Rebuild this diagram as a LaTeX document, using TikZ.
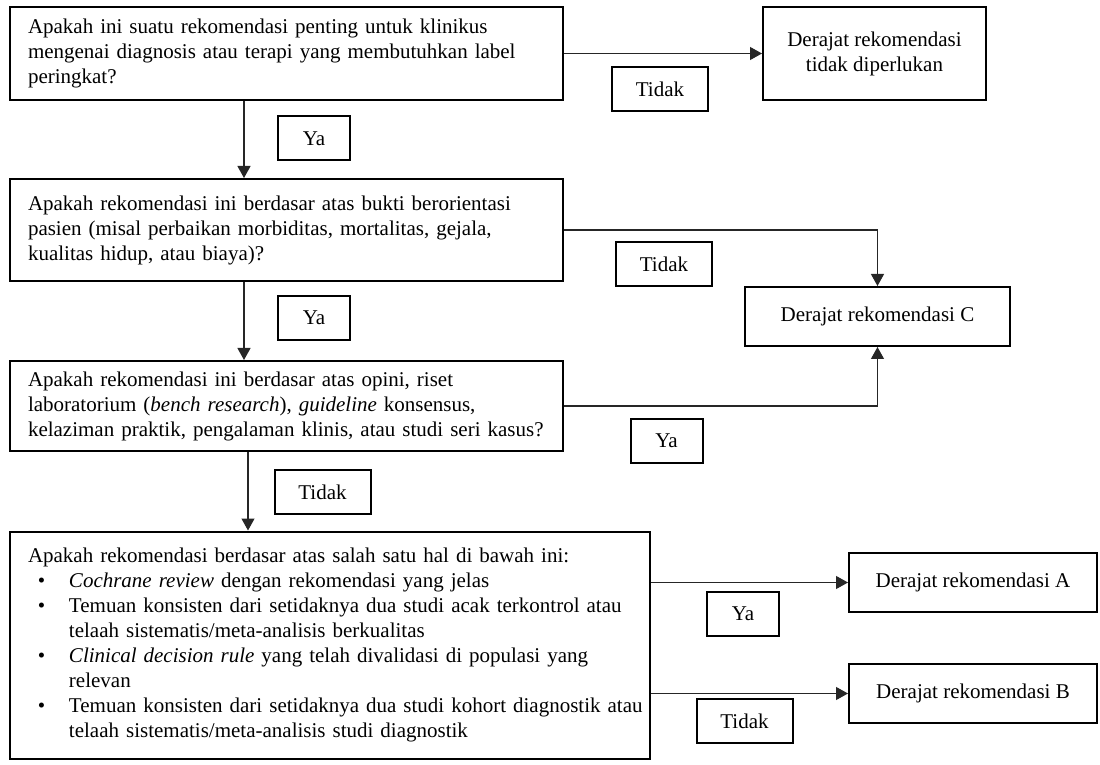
\documentclass[tikz,border=0pt]{standalone}
\usepackage{fontspec}
\setmainfont{Liberation Serif}
\usetikzlibrary{arrows.meta}

\newcommand{\itembul}{\makebox[20.5pt][l]{\hspace{5pt}\textbullet}}
\newcommand{\itemind}{\hspace*{20.5pt}}

\begin{document}
\begin{tikzpicture}[x=0.5pt, y=-0.5pt,
	every node/.style={font=\fontsize{10.5}{12.5}\selectfont},
	question/.style={draw, rectangle, line width=1pt, inner xsep=9pt, inner ysep=0pt, align=left},
	grade/.style={draw, rectangle, line width=1pt, inner sep=0pt, align=center},
	answer/.style={draw, rectangle, line width=1pt, inner sep=0pt, minimum width=#1, minimum height=22pt},
	link/.style={-{Triangle[length=6pt,width=6.5pt]}, line width=0.6pt, black!85}]
			
			\useasboundingbox (0,0) rectangle (1100,765);
			
			%Questions
			\node (firstQuestion) at (286.5,53.5) [question, text width=258.5pt, minimum width=276.5pt, minimum height=46.5pt]{Apakah ini suatu rekomendasi penting untuk klinikus\\mengenai diagnosis atau terapi yang membutuhkan label\\peringkat?};
			\node (patientQuestion) at (286.5,230) [question, text width=258.5pt, minimum width=276.5pt, minimum height=51pt]{Apakah rekomendasi ini berdasar atas bukti berorientasi\\pasien (misal perbaikan morbiditas, mortalitas, gejala,\\kualitas hidup, atau biaya)?};
			\node (opinionQuestion) at (286.5,406) [question, text width=258.5pt, minimum width=276.5pt, minimum height=45pt]{Apakah rekomendasi ini berdasar atas opini, riset\\laboratorium (\textit{bench research}), \textit{guideline} konsensus,\\kelaziman praktik, pengalaman klinis, atau studi seri kasus?};
			\node (evidenceQuestion) at (330,645) [question, text width=302pt, minimum width=320pt, minimum height=113.5pt]{Apakah rekomendasi berdasar atas salah satu hal di bawah ini:\\
				\itembul\textit{Cochrane review} dengan rekomendasi yang jelas\\
				\itembul Temuan konsisten dari setidaknya dua studi acak terkontrol atau\\
				\itemind telaah sistematis/meta-analisis berkualitas\\
				\itembul\textit{Clinical decision rule} yang telah divalidasi di populasi yang\\
				\itemind relevan\\
				\makebox[302pt][l]{\itembul Temuan konsisten dari setidaknya dua studi kohort diagnostik atau}\\
				\itemind telaah sistematis/meta-analisis studi diagnostik};
			
			%Grades
			\node (noGrade) at (874.5,53.5) [grade, minimum width=111.5pt, minimum height=46.5pt]{Derajat rekomendasi\\tidak diperlukan};
			\node (gradeC) at (877.5,316.5) [grade, minimum width=132.5pt, minimum height=29.5pt]{Derajat rekomendasi C};
			\node (gradeA) at (973,582.5) [grade, minimum width=124pt, minimum height=29.5pt]{Derajat rekomendasi A};
			\node (gradeB) at (973,693.5) [grade, minimum width=124pt, minimum height=29.5pt]{Derajat rekomendasi B};
			
			%Answers
			\node (yaFirst) at (314,138.5) [answer=36pt]{Ya};
			\node (tidakFirst) at (660,89) [answer=48pt]{Tidak};
			\node (yaPatient) at (314,318) [answer=36pt]{Ya};
			\node (tidakPatient) at (664,264.5) [answer=48pt]{Tidak};
			\node (yaOpinion) at (666.5,441) [answer=36pt]{Ya};
			\node (tidakOpinion) at (322.5,492) [answer=48pt]{Tidak};
			\node (yaEvidence) at (743,614) [answer=36pt]{Ya};
			\node (tidakEvidence) at (744.5,721) [answer=48pt]{Tidak};
			
			%Links
			\coordinate (upperStem) at (244,0);
			\coordinate (lowerStem) at (248,0);
			\draw[link] (firstQuestion.east) -- (noGrade.west);
			\draw[link] (firstQuestion.south -| upperStem) -- (patientQuestion.north -| upperStem);
			\draw[link] (patientQuestion.south -| upperStem) -- (opinionQuestion.north -| upperStem);
			\draw[link] (opinionQuestion.south -| lowerStem) -- (evidenceQuestion.north -| lowerStem);
			\draw[link] (patientQuestion.east) -| (gradeC.north);
			\draw[link] (opinionQuestion.east) -| (gradeC.south);
			\draw[link] (evidenceQuestion.east |- gradeA.west) -- (gradeA.west);
			\draw[link] (evidenceQuestion.east |- gradeB.west) -- (gradeB.west);
			
			\end{tikzpicture}
\end{document}
